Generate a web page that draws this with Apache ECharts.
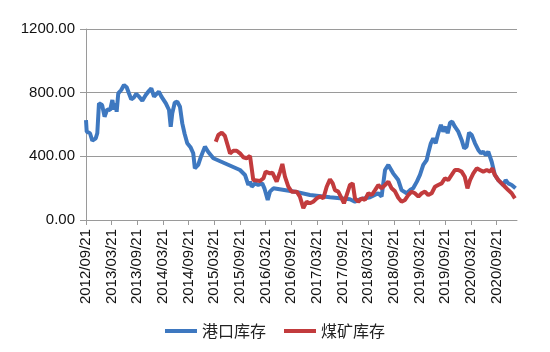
<!DOCTYPE html>
<html>
<head>
<meta charset="utf-8">
<script src="https://cdn.jsdelivr.net/npm/echarts@6/dist/echarts.min.js"></script>
<style>
  html, body { margin: 0; padding: 0; background: #fff; }
  #chart { width: 550px; height: 352px; }
</style>
</head>
<body>
<div id="chart"></div>
<script>
// x tick labels, one every 6 months from the first
const xTickLabels = [
  "2012/09/21", "2013/03/21", "2013/09/21", "2014/03/21", "2014/09/21",
  "2015/03/21", "2015/09/21", "2016/03/21", "2016/09/21", "2017/03/21",
  "2017/09/21", "2018/03/21", "2018/09/21", "2019/03/21", "2019/09/21",
  "2020/03/21", "2020/09/21"
];
const yTicks = [0, 400, 800, 1200];
const seriesNames = ["港口库存", "煤矿库存"];

// 港口库存
const portDates = [
  "2012-09-21", "2012-09-26", "2012-10-19", "2012-11-05", "2012-11-29", "2012-12-10",
  "2012-12-22", "2013-01-03", "2013-01-14", "2013-02-01", "2013-02-20", "2013-03-10",
  "2013-03-26", "2013-04-07", "2013-04-19", "2013-04-26", "2013-05-07", "2013-05-28",
  "2013-06-17", "2013-07-06", "2013-07-22", "2013-08-08", "2013-08-28", "2013-09-13",
  "2013-10-03", "2013-10-26", "2013-11-20", "2013-12-13", "2013-12-29", "2014-01-18",
  "2014-02-06", "2014-02-22", "2014-03-10", "2014-04-11", "2014-05-03", "2014-05-15",
  "2014-05-26", "2014-06-13", "2014-07-01", "2014-07-20", "2014-08-06", "2014-08-23",
  "2014-09-11", "2014-10-05", "2014-10-23", "2014-11-04", "2014-11-28", "2014-12-17",
  "2015-01-15", "2015-02-07", "2015-03-14", "2015-09-21", "2015-10-26", "2015-11-19",
  "2015-12-01", "2015-12-13", "2016-01-06", "2016-01-29", "2016-02-27", "2016-03-12",
  "2016-04-05", "2016-04-21", "2016-05-15", "2016-10-17", "2017-02-01", "2017-06-22",
  "2017-11-12", "2017-12-17", "2018-01-22", "2018-04-03", "2018-05-31", "2018-06-24",
  "2018-07-18", "2018-08-11", "2018-09-15", "2018-10-21", "2018-11-14", "2018-12-20",
  "2019-01-13", "2019-02-05", "2019-03-01", "2019-03-23", "2019-04-16", "2019-05-10",
  "2019-05-21", "2019-06-09", "2019-06-26", "2019-07-13", "2019-07-31", "2019-08-20",
  "2019-09-06", "2019-09-23", "2019-10-07", "2019-10-24", "2019-11-09", "2019-11-28",
  "2019-12-22", "2020-01-15", "2020-02-03", "2020-02-20", "2020-03-07", "2020-03-26",
  "2020-04-19", "2020-05-12", "2020-05-31", "2020-06-17", "2020-07-04", "2020-07-22",
  "2020-08-16", "2020-09-08", "2020-10-02", "2020-11-07", "2020-11-24", "2020-12-12",
  "2021-01-06", "2021-02-03"
];
const portValues = [
  628, 555, 545, 498, 513, 545,
  733, 743, 722, 649, 695, 691,
  754, 695, 733, 680, 796, 817,
  848, 834, 796, 758, 771, 792,
  775, 750, 785, 812, 827, 775,
  792, 806, 775, 733, 691, 586,
  670, 737, 743, 712, 607, 540,
  482, 455, 419, 325, 346, 398,
  461, 429, 388, 314, 283, 220,
  241, 209, 230, 220, 230, 199,
  126, 178, 199, 178, 157, 143,
  130, 115, 130, 143, 168, 147,
  314, 346, 293, 251, 188, 168,
  188, 199, 241, 283, 346, 377,
  419, 482, 513, 482, 545, 597,
  555, 586, 545, 611, 618, 586,
  555, 503, 450, 461, 549, 534,
  482, 440, 419, 429, 408, 429,
  366, 283, 251, 220, 251, 230,
  220, 199
];

// 煤矿库存
const mineDates = [
  "2015-03-31", "2015-04-19", "2015-05-13", "2015-06-05", "2015-06-24", "2015-07-11",
  "2015-08-04", "2015-08-28", "2015-09-21", "2015-10-14", "2015-11-07", "2015-12-01",
  "2015-12-24", "2016-01-06", "2016-02-11", "2016-03-05", "2016-03-21", "2016-04-21",
  "2016-05-08", "2016-06-08", "2016-07-02", "2016-07-18", "2016-08-06", "2016-08-30",
  "2016-09-23", "2016-10-05", "2016-10-29", "2016-11-21", "2016-12-15", "2017-01-08",
  "2017-02-01", "2017-02-24", "2017-03-20", "2017-04-12", "2017-05-05", "2017-05-29",
  "2017-06-22", "2017-07-11", "2017-07-27", "2017-08-20", "2017-09-14", "2017-09-30",
  "2017-10-19", "2017-11-12", "2017-12-01", "2017-12-17", "2018-01-10", "2018-02-04",
  "2018-02-27", "2018-03-21", "2018-04-15", "2018-05-08", "2018-05-31", "2018-06-24",
  "2018-07-18", "2018-08-11", "2018-09-04", "2018-09-28", "2018-10-21", "2018-11-14",
  "2018-12-08", "2019-01-01", "2019-01-25", "2019-02-17", "2019-03-12", "2019-04-05",
  "2019-04-28", "2019-05-21", "2019-06-15", "2019-07-08", "2019-07-31", "2019-08-25",
  "2019-09-18", "2019-10-11", "2019-11-05", "2019-11-28", "2019-12-22", "2020-01-15",
  "2020-02-07", "2020-02-26", "2020-03-14", "2020-04-07", "2020-05-01", "2020-05-24",
  "2020-06-17", "2020-07-11", "2020-08-04", "2020-08-20", "2020-09-08", "2020-10-02",
  "2020-10-26", "2020-11-19", "2020-12-12", "2021-01-06", "2021-01-29"
];
const mineValues = [
  492, 534, 549, 528, 471, 419,
  435, 435, 419, 394, 388, 402,
  251, 241, 245, 262, 304, 293,
  297, 241, 304, 352, 272, 209,
  178, 168, 178, 147, 75, 115,
  105, 115, 136, 147, 136, 209,
  256, 230, 188, 178, 136, 105,
  157, 220, 230, 136, 115, 136,
  126, 168, 157, 188, 220, 199,
  220, 241, 199, 180, 140, 115,
  126, 157, 178, 168, 147, 168,
  178, 157, 168, 209, 220, 230,
  262, 251, 283, 314, 314, 304,
  272, 199, 251, 293, 325, 314,
  304, 314, 304, 325, 283, 251,
  230, 209, 188, 168, 136
];

// months elapsed since the first tick date (2012/09/21)
const toMonths = (s) => {
  const [y, m, d] = s.split("-").map(Number);
  return (y - 2012) * 12 + (m - 9) + (d - 21) / 30.44;
};
const pairs = (dates, values) => dates.map((d, i) => [toMonths(d), values[i]]);

const tickMonths = xTickLabels.map((_, i) => i * 6);

const chart = echarts.init(document.getElementById("chart"));
chart.setOption({
  animation: false,
  color: ["#3E78C0", "#C23B3D"],
  grid: { left: 86, right: 33, top: 29, bottom: 132 },
  xAxis: {
    type: "value",
    min: 0,
    max: 100.75,
    interval: 6,
    axisLine: { show: true, lineStyle: { color: "#9a9a9a", width: 1 } },
    axisTick: { show: true, length: 5, lineStyle: { color: "#9a9a9a" }, customValues: tickMonths },
    axisLabel: {
      rotate: 90,
      margin: 9,
      color: "#111",
      fontFamily: "Liberation Sans",
      fontSize: 15,
      customValues: tickMonths,
      formatter: (v) => xTickLabels[Math.round(v / 6)] || ""
    },
    splitLine: { show: false }
  },
  yAxis: {
    type: "value",
    min: yTicks[0],
    max: yTicks[yTicks.length - 1],
    interval: 400,
    axisLine: { show: true, lineStyle: { color: "#9a9a9a", width: 1 } },
    axisTick: { show: true, length: 6, lineStyle: { color: "#9a9a9a" } },
    axisLabel: {
      margin: 11,
      color: "#111",
      fontFamily: "Liberation Sans",
      fontSize: 15,
      formatter: (v) => v.toFixed(2)
    },
    splitLine: { lineStyle: { color: "#9a9a9a", width: 1 } }
  },
  legend: {
    bottom: 8,
    left: "center",
    itemWidth: 32,
    itemHeight: 4,
    itemGap: 18,
    icon: "rect",
    textStyle: { fontFamily: "Noto Sans CJK SC", fontSize: 16, color: "#222" },
    data: seriesNames
  },
  series: [
    {
      name: seriesNames[0],
      type: "line",
      data: pairs(portDates, portValues),
      showSymbol: false,
      lineStyle: { width: 4 }
    },
    {
      name: seriesNames[1],
      type: "line",
      data: pairs(mineDates, mineValues),
      showSymbol: false,
      lineStyle: { width: 4 }
    }
  ]
});
</script>
</body>
</html>
